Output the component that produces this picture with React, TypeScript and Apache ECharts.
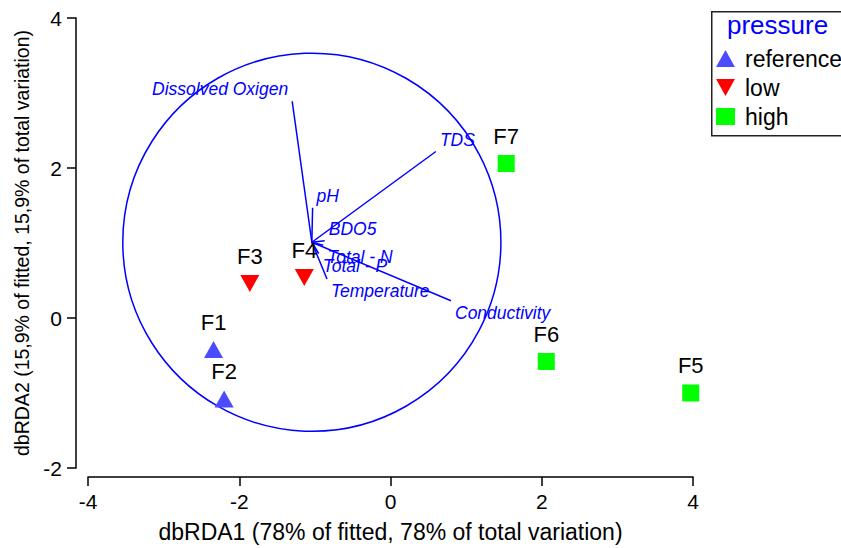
import React, { useEffect, useRef } from "react";
import * as echarts from "echarts";

// ---- data ----
const siteNames = ["F1", "F2", "F3", "F4", "F5", "F6", "F7"];
const siteX = [-2.34, -2.2, -1.86, -1.14, 3.97, 2.06, 1.53];
const siteY = [-0.42, -1.08, 0.46, 0.54, -1.0, -0.58, 2.06];
const sitePressure = ["reference", "reference", "low", "low", "high", "high", "high"];
const pressureLevels = ["reference", "low", "high"];

const vectorNames = [
  "Dissolved Oxigen",
  "TDS",
  "Conductivity",
  "pH",
  "BDO5",
  "Total - N",
  "Total - P",
  "Temperature",
];
const vectorX = [-1.3, 0.6, 0.8, -1.03, -0.87, -0.89, -0.95, -0.84];
const vectorY = [2.89, 2.22, 0.23, 1.47, 1.03, 0.97, 0.86, 0.52];
const vectorOrigin = [-1.04, 1.01];
const circleRadius = 2.5;

const xTitle = "dbRDA1 (78% of fitted, 78% of total variation)";
const yTitle = "dbRDA2 (15,9% of fitted, 15,9% of total variation)";
const legendTitle = "pressure";

const FONT = "'Liberation Sans', Arial, sans-serif";
const BLUE = "#0000ff";
const DOWN_TRIANGLE = "path://M0,0L20,0L10,18Z";
const UP_TRIANGLE = "path://M10,0L20,18L0,18Z";

const levelStyle: Record<string, { symbol: string; size: any; color: string }> = {
  reference: { symbol: UP_TRIANGLE, size: [19, 17], color: "#4b4bff" },
  low: { symbol: DOWN_TRIANGLE, size: [19, 17], color: "#ff0000" },
  high: { symbol: "rect", size: [17, 17], color: "#00ff00" },
};

export default function App() {
  const ref = useRef<HTMLDivElement>(null);

  useEffect(() => {
    document.body.style.margin = "0";
    const chart = echarts.init(ref.current!, null, { renderer: "svg" });

    const scatterSeries = pressureLevels.map((lvl) => {
      const st = levelStyle[lvl];
      return {
        type: "scatter",
        name: lvl,
        symbol: st.symbol,
        symbolSize: st.size,
        symbolKeepAspect: false,
        itemStyle: { color: st.color, opacity: 1 },
        z: 5,
        label: {
          show: true,
          position: "top",
          distance: 8,
          formatter: "{b}",
          color: "#000",
          fontSize: 22,
          fontFamily: FONT,
        },
        data: siteNames
          .map((n, i) => ({ name: n, value: [siteX[i], siteY[i]], lvl: sitePressure[i] }))
          .filter((d) => d.lvl === lvl)
          .map((d) => ({ name: d.name, value: d.value })),
      };
    });

    const option: any = {
      animation: false,
      grid: { left: 88, right: 148, top: 18, bottom: 75 },
      xAxis: {
        type: "value",
        min: -4,
        max: 4,
        interval: 2,
        position: "bottom",
        offset: 9,
        axisLine: { show: true, onZero: false, lineStyle: { color: "#000", width: 1.5 } },
        axisTick: { show: true, length: 9, lineStyle: { color: "#000", width: 1.5 } },
        splitLine: { show: false },
        axisLabel: { color: "#000", fontSize: 21, fontFamily: FONT, margin: 14 },
        name: xTitle,
        nameLocation: "middle",
        nameGap: 43,
        nameTextStyle: { color: "#000", fontSize: 23, fontFamily: FONT },
      },
      yAxis: {
        type: "value",
        min: -2,
        max: 4,
        interval: 2,
        position: "left",
        offset: 12,
        axisLine: { show: true, onZero: false, lineStyle: { color: "#000", width: 1.5 } },
        axisTick: { show: true, length: 9, lineStyle: { color: "#000", width: 1.5 } },
        splitLine: { show: false },
        axisLabel: { color: "#000", fontSize: 21, fontFamily: FONT, margin: 14 },
        name: yTitle,
        nameLocation: "middle",
        nameGap: 44,
        nameTextStyle: { color: "#000", fontSize: 19.5, fontFamily: FONT },
      },
      legend: {
        data: pressureLevels.map((lvl) => ({ name: lvl, icon: levelStyle[lvl].symbol })),
        orient: "vertical",
        left: 716,
        top: 47,
        itemWidth: 19,
        itemHeight: 17,
        itemGap: 6,
        padding: 0,
        z: 10,
        textStyle: { color: "#000", fontSize: 23, fontFamily: FONT, padding: [0, 0, 0, 5] },
      },
      graphic: [
        {
          type: "rect",
          left: 711,
          top: 11,
          z: 1,
          shape: { width: 170, height: 124 },
          style: { fill: "#fff", stroke: "#222", lineWidth: 1.5 },
        },
        {
          type: "text",
          left: 727,
          top: 12,
          z: 2,
          style: { text: legendTitle, fill: BLUE, fontSize: 26, fontFamily: FONT },
        },
      ],
      series: [
        {
          type: "custom",
          name: "circle",
          silent: true,
          z: 2,
          data: [[vectorOrigin[0], vectorOrigin[1], circleRadius]],
          renderItem: (params: any, api: any) => {
            const c = api.coord([api.value(0), api.value(1)]);
            const s = api.size([api.value(2), api.value(2)]);
            return {
              type: "circle",
              shape: { cx: c[0], cy: c[1], r: s[0] },
              style: { fill: "none", stroke: BLUE, lineWidth: 1.5 },
            };
          },
        },
        {
          type: "custom",
          name: "vectors",
          silent: true,
          z: 3,
          data: vectorNames.map((n, i) => [vectorOrigin[0], vectorOrigin[1], vectorX[i], vectorY[i]]),
          renderItem: (params: any, api: any) => {
            const p0 = api.coord([api.value(0), api.value(1)]);
            const p1 = api.coord([api.value(2), api.value(3)]);
            const dx = api.value(2) - api.value(0);
            const dy = api.value(3) - api.value(1);
            const right = dx >= 0;
            return {
              type: "group",
              children: [
                {
                  type: "line",
                  shape: { x1: p0[0], y1: p0[1], x2: p1[0], y2: p1[1] },
                  style: { stroke: BLUE, lineWidth: 1.5 },
                },
                {
                  type: "text",
                  x: p1[0] + (right ? 4 : -4),
                  y: p1[1] + (dy > 0 ? -12 : 12),
                  style: {
                    text: vectorNames[params.dataIndex],
                    fill: BLUE,
                    fontSize: 17.5,
                    fontStyle: "italic",
                    fontFamily: FONT,
                    align: right ? "left" : "right",
                    verticalAlign: "middle",
                  },
                },
              ],
            };
          },
        },
        ...scatterSeries,
      ],
    };

    chart.setOption(option);
    return () => chart.dispose();
  }, []);

  return <div ref={ref} style={{ width: 841, height: 548 }} />;
}
